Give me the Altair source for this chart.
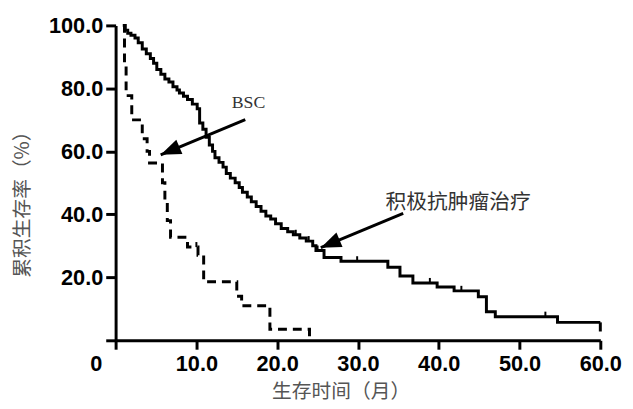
import altair as alt
import pandas as pd

# ---- data ----
active_t = [0.9, 1.2, 1.5, 1.9, 2.4, 2.8, 3.3, 3.8, 4.3, 4.7, 5.1, 5.6, 6.1, 6.6, 7.1, 7.6, 7.9, 8.4,
            8.9, 9.5, 10.1, 10.4, 10.8, 11.2, 11.6, 12.0, 12.3, 12.8, 13.3, 13.7, 14.2, 14.8, 15.3,
            15.7, 16.3, 16.8, 17.4, 18.0, 18.6, 19.2, 19.8, 20.5, 21.3, 22.0, 22.8, 23.6, 24.4, 24.8,
            25.8, 27.9, 33.7, 35.2, 36.8, 39.8, 41.9, 44.9, 45.9, 47.0, 54.7, 60.0]
active_s = [100, 98.5, 97.5, 96.9, 96.0, 94.5, 92.5, 91.0, 89.5, 88.0, 86.0, 84.5, 83.0, 82.0, 80.5,
            79.5, 78.5, 77.5, 76.5, 75.0, 73.5, 69.0, 67.0, 64.5, 62.0, 60.0, 58.0, 56.5, 55.0, 53.0,
            51.5, 50.0, 48.5, 47.0, 45.5, 44.0, 42.5, 41.0, 39.5, 38.5, 37.0, 35.5, 34.5, 33.5, 32.5,
            31.5, 30.0, 28.5, 26.3, 25.1, 23.2, 20.4, 18.2, 16.9, 15.7, 13.8, 9.1, 7.5, 5.7, 5.7]

bsc_t = [0.9, 1.1, 1.3, 2.0, 3.3, 3.9, 4.2, 5.8, 6.1, 6.4, 6.8, 8.9, 10.2, 10.9, 15.0, 15.6, 19.1, 24.0]
bsc_s = [100, 88.0, 77.7, 70.0, 64.0, 60.0, 56.3, 50.0, 44.0, 38.0, 32.7, 29.6, 27.0, 18.6, 14.0, 11.0, 3.5, 0]

active_cens_t = [22.3, 23.9, 25.0, 29.9, 38.9, 42.8, 53.2]
active_cens_s = [33.5, 31.5, 28.5, 25.1, 18.2, 15.7, 7.5]
bsc_cens_t = [10.0]
bsc_cens_s = [29.6]

end_tick_t = [60.0]
end_tick_s = [5.7]
end_tick_s2 = [2.8]

x_ticks = [0, 10, 20, 30, 40, 50, 60]
y_ticks = [0, 20, 40, 60, 80, 100]

note_text = ["BSC", "积极抗肿瘤治疗"]
note_x = [16.45, 42.4]
note_y = [75.3, 43.6]

arrow_x = [16.05, 35.6]
arrow_y = [70.1, 40.3]
arrow_x2 = [5.58, 25.4]
arrow_y2 = [58.9, 29.4]
arrow_angle = [247, 247]

# ---- tables ----
active_df = pd.DataFrame({"t": active_t, "s": active_s})
bsc_df = pd.DataFrame({"t": bsc_t, "s": bsc_s})
cens_df = pd.DataFrame({"t": active_cens_t + bsc_cens_t,
                        "s": active_cens_s + bsc_cens_s})
cens_df["s2"] = cens_df["s"] + 1.6
end_df = pd.DataFrame({"t": end_tick_t, "s": end_tick_s, "s2": end_tick_s2})
note_df = pd.DataFrame({"text": note_text, "x": note_x, "y": note_y})
arrow_df = pd.DataFrame({"x": arrow_x, "y": arrow_y, "x2": arrow_x2, "y2": arrow_y2,
                         "angle": arrow_angle})

xscale = alt.Scale(domain=[0, 60], nice=False, zero=False)
yscale = alt.Scale(domain=[0, 100], nice=False, zero=False)

x_axis = alt.Axis(
    values=x_ticks,
    labelExpr="datum.value == 0 ? '0' : format(datum.value, '.1f')",
    labelOffset={"condition": {"test": "datum.value == 0", "value": -20}, "value": 0},
    labelFlush=False,
    title="生存时间（月）",
    titleX=228, titleY=52, titleBaseline="middle", titleAlign="center",
    grid=False,
)
y_axis = alt.Axis(
    values=y_ticks,
    labelExpr="datum.value == 0 ? '' : format(datum.value, '.1f')",
    labelFlush=False,
    title="累积生存率（%）",
    titleX=-94, titleY=176, titleAngle=-90, titleBaseline="middle", titleAlign="center",
    grid=False,
)


def X(field):
    return alt.X(field, type="quantitative", scale=xscale, axis=x_axis)


def Y(field):
    return alt.Y(field, type="quantitative", scale=yscale, axis=y_axis)


active = alt.Chart(active_df).mark_line(
    interpolate="step-after", color="black", strokeWidth=3
).encode(x=X("t"), y=Y("s"))

bsc = alt.Chart(bsc_df).mark_line(
    interpolate="step-after", color="black", strokeWidth=3, strokeDash=[9, 6]
).encode(x=X("t"), y=Y("s"))

cens = alt.Chart(cens_df).mark_rule(color="black", strokeWidth=2).encode(
    x=X("t"), y=Y("s"), y2="s2:Q",
)
end_tick = alt.Chart(end_df).mark_rule(color="black", strokeWidth=3).encode(
    x=X("t"), y=Y("s"), y2="s2:Q",
)

arrow_lines = alt.Chart(arrow_df).mark_rule(color="black", strokeWidth=3).encode(
    x=X("x"), y=Y("y"), x2="x2:Q", y2="y2:Q",
)
arrow_heads = alt.Chart(arrow_df).mark_point(
    shape="M0,0 L0.5,1.3 L-0.5,1.3 Z", filled=True, color="black", opacity=1,
    size=1000, strokeWidth=0,
).encode(
    x=X("x2"), y=Y("y2"),
    angle=alt.Angle("angle:Q", scale=None),
)

notes_bsc = alt.Chart(note_df.iloc[[0]]).mark_text(
    font="Liberation Serif", fontSize=18, color="#333333", align="center", baseline="middle"
).encode(x=X("x"), y=Y("y"), text="text:N")
notes_act = alt.Chart(note_df.iloc[[1]]).mark_text(
    font="Noto Sans CJK SC", fontSize=21, color="#333333", align="center", baseline="middle"
).encode(x=X("x"), y=Y("y"), text="text:N")

chart = alt.layer(
    active, bsc, cens, end_tick, arrow_lines, arrow_heads, notes_bsc, notes_act
).properties(
    width=491, height=319,
    autosize=alt.AutoSizeParams(type="none"),
    padding={"left": 109, "top": 15, "right": 25, "bottom": 70},
).configure_view(
    stroke=None
).configure_axis(
    domainColor="black", domainWidth=3,
    tickColor="black", tickWidth=3, tickSize=10,
    labelFont="Liberation Sans", labelFontWeight="bold", labelFontSize=22, labelColor="black",
    labelPadding=3,
    titleFont="Noto Sans CJK SC", titleFontWeight="normal", titleFontSize=20, titleColor="#555555",
).configure_axisX(
    tickSize=9, labelPadding=5,
)

chart.save("out.html", embed_options={"renderer": "svg", "actions": False})
